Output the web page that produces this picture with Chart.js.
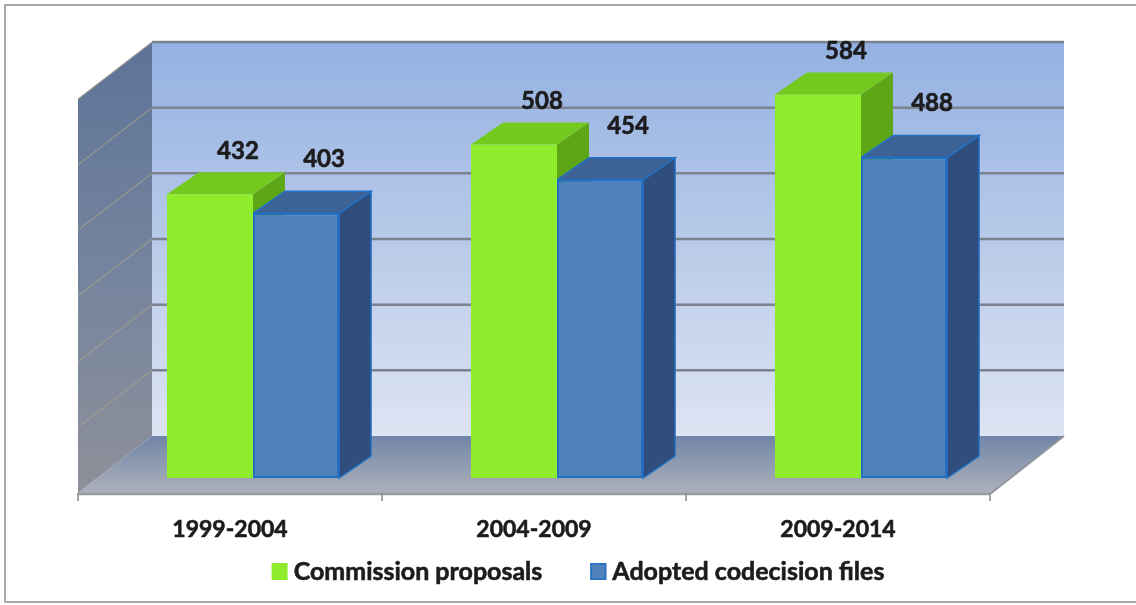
<!DOCTYPE html>
<html>
<head>
<meta charset="utf-8">
<title>Commission proposals and adopted codecision files</title>
<script src="https://cdn.jsdelivr.net/npm/chart.js@4.4.1/dist/chart.umd.min.js"></script>
<style>
  html, body { margin: 0; padding: 0; background: #ffffff; }
  canvas { display: block; }
</style>
</head>
<body>
<canvas id="chart" width="1136" height="605"></canvas>
<script>
// Legislative terms and the two series per term
var terms = ['1999-2004', '2004-2009', '2009-2014'];
var commissionProposals = [432, 508, 584];
var adoptedFiles = [403, 454, 488];
var seriesNames = ['Commission proposals', 'Adopted codecision files'];
var gridValues = [100, 200, 300, 400, 500, 600];

// offsets of the 3D box relative to the plane of the bar fronts
var WALL = { dx: 51, dy: -42 };
var FLOOR_FRONT = { dx: -23, dy: 15 };
var DEPTH = { dx: 32, dy: -22 };

var faceColors = [
    { front: '#8fec2d', top: '#74c91f', side: '#5fa617', edge: null, labelLift: 21 },
    { front: '#4f81bd', top: '#3d6396', side: '#2f4e7c', edge: '#2270c4', labelLift: 32 }
];

var TEXT_COLOR = '#1c1c1e';

function poly(ctx, pts, fill, stroke, lw) {
    ctx.beginPath();
    ctx.moveTo(pts[0][0], pts[0][1]);
    for (var i = 1; i < pts.length; i++) ctx.lineTo(pts[i][0], pts[i][1]);
    ctx.closePath();
    if (fill) { ctx.fillStyle = fill; ctx.fill(); }
    if (stroke) { ctx.strokeStyle = stroke; ctx.lineWidth = lw || 1; ctx.stroke(); }
}

function line(ctx, x1, y1, x2, y2, color, lw) {
    ctx.beginPath();
    ctx.moveTo(x1, y1);
    ctx.lineTo(x2, y2);
    ctx.strokeStyle = color;
    ctx.lineWidth = lw;
    ctx.stroke();
}

// heavy text: fill plus a thin stroke in the same colour
function boldText(ctx, s, x, y) {
    ctx.fillText(s, x, y);
    ctx.strokeText(s, x, y);
}

var box3d = {
    id: 'box3d',
    beforeDatasetsDraw: function (chart) {
        var ctx = chart.ctx;
        var area = chart.chartArea;
        var ys = chart.scales.y;
        var base = ys.getPixelForValue(0);
        var top = ys.getPixelForValue(ys.max);
        var L = area.left, R = area.right;

        ctx.save();

        // back wall
        var wallGrad = ctx.createLinearGradient(0, top + WALL.dy, 0, base + WALL.dy);
        wallGrad.addColorStop(0, '#93b1e2');
        wallGrad.addColorStop(0.55, '#bccce9');
        wallGrad.addColorStop(1, '#dde4f3');
        ctx.fillStyle = wallGrad;
        ctx.fillRect(L + WALL.dx, top + WALL.dy, R - L, base - top);

        // left side wall
        var sideGrad = ctx.createLinearGradient(0, top + WALL.dy, 0, base + FLOOR_FRONT.dy);
        sideGrad.addColorStop(0, '#5d7397');
        sideGrad.addColorStop(0.5, '#74849e');
        sideGrad.addColorStop(1, '#8e9099');
        poly(ctx, [
            [L + FLOOR_FRONT.dx, top + FLOOR_FRONT.dy],
            [L + WALL.dx, top + WALL.dy],
            [L + WALL.dx, base + WALL.dy],
            [L + FLOOR_FRONT.dx, base + FLOOR_FRONT.dy]
        ], sideGrad);

        // floor
        var floorGrad = ctx.createLinearGradient(0, base + WALL.dy, 0, base + FLOOR_FRONT.dy);
        floorGrad.addColorStop(0, '#7186a8');
        floorGrad.addColorStop(1, '#adb0ba');
        poly(ctx, [
            [L + WALL.dx, base + WALL.dy],
            [R + WALL.dx, base + WALL.dy],
            [R + FLOOR_FRONT.dx, base + FLOOR_FRONT.dy],
            [L + FLOOR_FRONT.dx, base + FLOOR_FRONT.dy]
        ], floorGrad);
        line(ctx, L + FLOOR_FRONT.dx, base + FLOOR_FRONT.dy + 1, R + FLOOR_FRONT.dx, base + FLOOR_FRONT.dy + 1, '#9a9ca2', 2.5);
        line(ctx, R + FLOOR_FRONT.dx, base + FLOOR_FRONT.dy + 1, R + WALL.dx, base + WALL.dy, '#8f939b', 2);

        // grid lines on back and side walls
        gridValues.forEach(function (v) {
            var py = ys.getPixelForValue(v);
            line(ctx, L + WALL.dx, py + WALL.dy, R + WALL.dx, py + WALL.dy, '#7c828e', 2.5);
            line(ctx, L + FLOOR_FRONT.dx, py + FLOOR_FRONT.dy, L + WALL.dx, py + WALL.dy, 'rgba(170,160,140,0.7)', 1.2);
        });

        // category ticks along the front edge of the floor
        var n = terms.length;
        var step = (R - L) / n;
        for (var i = 0; i <= n; i++) {
            var tx = L + i * step + FLOOR_FRONT.dx;
            line(ctx, tx, base + FLOOR_FRONT.dy, tx, base + FLOOR_FRONT.dy + 8, '#8a8c92', 1.5);
        }

        // top and side faces of each bar, fronts are drawn by Chart.js afterwards
        chart.data.datasets.forEach(function (ds, d) {
            var meta = chart.getDatasetMeta(d);
            var c = faceColors[d];
            meta.data.forEach(function (bar) {
                var p = bar.getProps(['x', 'y', 'base', 'width'], true);
                var left = p.x - p.width / 2, right = p.x + p.width / 2;
                poly(ctx, [
                    [right, p.y],
                    [right + DEPTH.dx, p.y + DEPTH.dy],
                    [right + DEPTH.dx, p.base + DEPTH.dy],
                    [right, p.base]
                ], c.side, c.edge, 1.5);
                poly(ctx, [
                    [left, p.y],
                    [left + DEPTH.dx, p.y + DEPTH.dy],
                    [right + DEPTH.dx, p.y + DEPTH.dy],
                    [right, p.y]
                ], c.top, c.edge, 1.5);
            });
        });

        ctx.restore();
    },
    afterDraw: function (chart) {
        var ctx = chart.ctx;
        var area = chart.chartArea;
        var xs = chart.scales.x;
        var ys = chart.scales.y;
        var base = ys.getPixelForValue(0);

        ctx.save();
        ctx.fillStyle = TEXT_COLOR;
        ctx.strokeStyle = TEXT_COLOR;
        ctx.lineWidth = 0.6;
        ctx.lineJoin = 'round';
        ctx.textAlign = 'center';
        ctx.textBaseline = 'middle';

        // values above the back edge of each bar top
        ctx.font = 'bold 24px Lato';
        chart.data.datasets.forEach(function (ds, d) {
            chart.getDatasetMeta(d).data.forEach(function (bar, i) {
                var p = bar.getProps(['x', 'y'], true);
                boldText(ctx, String(ds.data[i]), p.x + DEPTH.dx - 4, p.y + DEPTH.dy - faceColors[d].labelLift);
            });
        });

        // term labels under the floor
        ctx.font = 'bold 23px Lato';
        terms.forEach(function (t, i) {
            boldText(ctx, t, xs.getPixelForValue(i) + FLOOR_FRONT.dx, base + 52);
        });

        // legend
        ctx.font = 'bold 25px Lato';
        var boxSize = 16, gap = 6, itemGap = 48;
        var widths = seriesNames.map(function (s) { return ctx.measureText(s).width; });
        var total = 2 * (boxSize + gap) + widths[0] + widths[1] + itemGap;
        var lx = (area.left + area.right) / 2 + 21 - total / 2;
        var ly = base + 93;
        ctx.textAlign = 'left';
        seriesNames.forEach(function (s, d) {
            var c = faceColors[d];
            ctx.fillStyle = c.front;
            ctx.fillRect(lx, ly - 8, boxSize, boxSize + 1);
            if (c.edge) {
                ctx.strokeStyle = c.edge;
                ctx.lineWidth = 1.5;
                ctx.strokeRect(lx + 0.75, ly - 7.25, boxSize - 1.5, boxSize - 0.5);
            }
            ctx.fillStyle = TEXT_COLOR;
            ctx.strokeStyle = TEXT_COLOR;
            ctx.lineWidth = 0.6;
            boldText(ctx, s, lx + boxSize + gap, ly + 1);
            lx += boxSize + gap + widths[d] + itemGap;
        });

        // outer frame
        ctx.strokeStyle = '#a8a8a8';
        ctx.lineWidth = 2;
        ctx.strokeRect(5, 5, chart.width + 10, chart.height - 8);
        ctx.restore();
    }
};

new Chart(document.getElementById('chart'), {
    type: 'bar',
    data: {
        labels: terms,
        datasets: [{
            label: seriesNames[0],
            data: commissionProposals,
            backgroundColor: faceColors[0].front,
            borderWidth: 0
        }, {
            label: seriesNames[1],
            data: adoptedFiles,
            backgroundColor: faceColors[1].front,
            borderColor: faceColors[1].edge,
            borderWidth: 2,
            borderSkipped: false
        }]
    },
    options: {
        responsive: false,
        animation: false,
        layout: { padding: { left: 101, right: 123, top: 84, bottom: 127 } },
        datasets: { bar: { categoryPercentage: 0.566, barPercentage: 1 } },
        scales: {
            x: { display: false },
            y: { display: false, min: 0, max: 600 }
        },
        plugins: {
            legend: { display: false },
            tooltip: { enabled: false }
        }
    },
    plugins: [box3d]
});
</script>
</body>
</html>
